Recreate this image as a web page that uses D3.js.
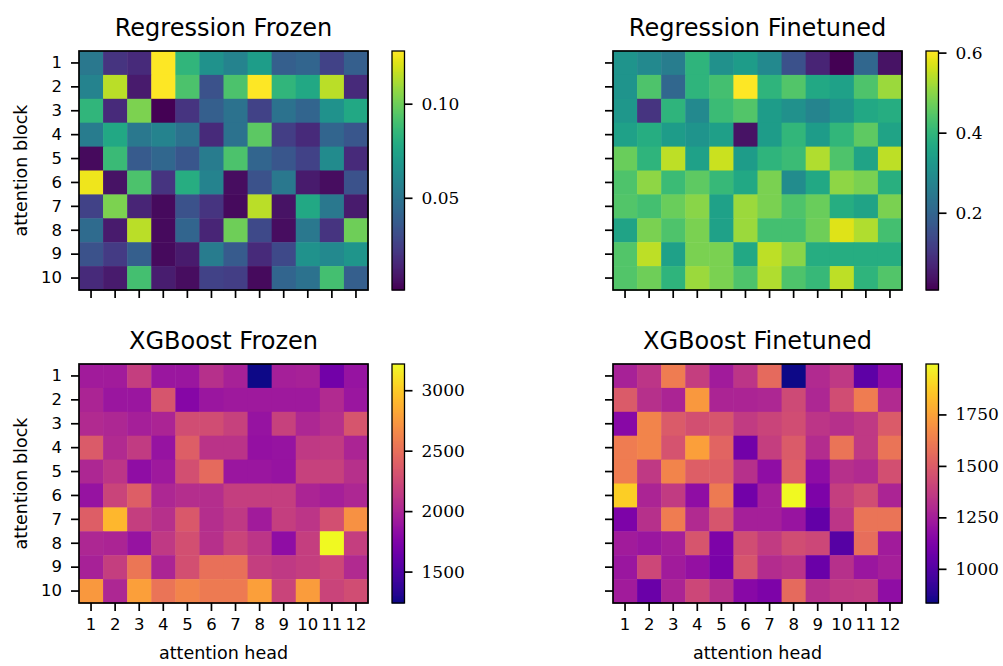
<!DOCTYPE html>
<html>
<head>
<meta charset="utf-8">
<script src="https://cdn.jsdelivr.net/npm/d3@7"></script>
<style>
  body { margin: 0; background: #fff; }
  svg text { fill: #000; }
  .tick line, .domain { stroke: #000; }
</style>
</head>
<body>
<div id="chart"></div>
<script>
// attention head (columns) and attention block (rows)
var heads = [1, 2, 3, 4, 5, 6, 7, 8, 9, 10, 11, 12];
var blocks = [1, 2, 3, 4, 5, 6, 7, 8, 9, 10];

var regFrozen = [
  [0.052, 0.020, 0.016, 0.128, 0.084, 0.065, 0.058, 0.071, 0.039, 0.042, 0.026, 0.039],
  [0.058, 0.115, 0.010, 0.128, 0.092, 0.033, 0.092, 0.128, 0.084, 0.077, 0.115, 0.016],
  [0.084, 0.016, 0.103, 0.001, 0.020, 0.039, 0.049, 0.026, 0.049, 0.042, 0.065, 0.077],
  [0.054, 0.077, 0.052, 0.058, 0.049, 0.016, 0.049, 0.096, 0.024, 0.016, 0.042, 0.035],
  [0.004, 0.087, 0.037, 0.043, 0.035, 0.054, 0.092, 0.042, 0.035, 0.026, 0.062, 0.016],
  [0.125, 0.007, 0.092, 0.020, 0.080, 0.058, 0.005, 0.033, 0.052, 0.010, 0.005, 0.033],
  [0.026, 0.103, 0.014, 0.004, 0.033, 0.020, 0.004, 0.115, 0.007, 0.077, 0.052, 0.010],
  [0.045, 0.010, 0.115, 0.004, 0.042, 0.014, 0.100, 0.029, 0.005, 0.052, 0.020, 0.100],
  [0.033, 0.023, 0.039, 0.004, 0.010, 0.054, 0.037, 0.016, 0.029, 0.065, 0.061, 0.067],
  [0.016, 0.010, 0.090, 0.011, 0.005, 0.026, 0.024, 0.004, 0.042, 0.049, 0.090, 0.039]
];

var regFinetuned = [
  [0.317, 0.288, 0.258, 0.395, 0.306, 0.335, 0.288, 0.156, 0.067, 0.007, 0.204, 0.037],
  [0.317, 0.437, 0.204, 0.395, 0.425, 0.604, 0.395, 0.443, 0.365, 0.347, 0.437, 0.514],
  [0.323, 0.097, 0.395, 0.288, 0.413, 0.443, 0.335, 0.306, 0.276, 0.317, 0.365, 0.377],
  [0.347, 0.377, 0.335, 0.317, 0.341, 0.037, 0.335, 0.401, 0.335, 0.401, 0.455, 0.353],
  [0.467, 0.395, 0.544, 0.347, 0.556, 0.335, 0.395, 0.413, 0.532, 0.437, 0.353, 0.544],
  [0.437, 0.503, 0.413, 0.455, 0.407, 0.365, 0.485, 0.294, 0.365, 0.503, 0.485, 0.383],
  [0.443, 0.425, 0.467, 0.497, 0.347, 0.514, 0.485, 0.437, 0.467, 0.377, 0.353, 0.485],
  [0.353, 0.485, 0.437, 0.485, 0.347, 0.514, 0.425, 0.425, 0.473, 0.574, 0.532, 0.425],
  [0.443, 0.544, 0.347, 0.485, 0.485, 0.365, 0.544, 0.497, 0.377, 0.377, 0.377, 0.377],
  [0.443, 0.473, 0.395, 0.514, 0.485, 0.437, 0.532, 0.437, 0.407, 0.544, 0.395, 0.443]
];

var xgbFrozen = [
  [1932, 1932, 2169, 1892, 1892, 2070, 1971, 1240, 1952, 1971, 1675, 1873],
  [1991, 1892, 1892, 2327, 1774, 1892, 1912, 1912, 1912, 1912, 2031, 1892],
  [2031, 2011, 1952, 1991, 2268, 2268, 2189, 1873, 2189, 2011, 2070, 2327],
  [2367, 2031, 2149, 1873, 2387, 2090, 2090, 1853, 1873, 2130, 2149, 1991],
  [2011, 2110, 1833, 1912, 2288, 2466, 1892, 1892, 1873, 2189, 2189, 2070],
  [1873, 2209, 2387, 2011, 2051, 2051, 2169, 2169, 2169, 1991, 1952, 2011],
  [2387, 2901, 2169, 2070, 2347, 2051, 2130, 1932, 2169, 2110, 2288, 2703],
  [2011, 1991, 1873, 2130, 2288, 2070, 2209, 2110, 1833, 2169, 3217, 2169],
  [1971, 2169, 2545, 1991, 2288, 2505, 2505, 2169, 2130, 2169, 2229, 2031],
  [2743, 2011, 2782, 2525, 2624, 2565, 2565, 2782, 2209, 2762, 2209, 2268]
];

var xgbFinetuned = [
  [1264, 1345, 1623, 1380, 1240, 1345, 1554, 834, 1298, 1356, 1031, 1182],
  [1496, 1322, 1275, 1716, 1275, 1275, 1287, 1426, 1287, 1438, 1623, 1298],
  [1159, 1647, 1496, 1449, 1473, 1368, 1403, 1438, 1345, 1322, 1356, 1496],
  [1623, 1647, 1461, 1740, 1531, 1089, 1380, 1496, 1310, 1589, 1356, 1589],
  [1623, 1356, 1647, 1507, 1507, 1322, 1182, 1507, 1182, 1322, 1298, 1449],
  [1879, 1275, 1368, 1182, 1612, 1089, 1252, 1995, 1124, 1380, 1438, 1275],
  [1124, 1322, 1623, 1298, 1473, 1252, 1252, 1206, 1043, 1345, 1589, 1589],
  [1240, 1217, 1252, 1473, 1124, 1438, 1368, 1438, 1415, 1008, 1565, 1240],
  [1217, 1415, 1240, 1194, 1113, 1473, 1310, 1333, 1066, 1322, 1217, 1252],
  [1240, 1066, 1275, 1415, 1322, 1159, 1124, 1554, 1322, 1356, 1368, 1182]
];

// colorbar tick labels
var regFrozenTicks = [0.05, 0.10];
var regFinetunedTicks = [0.2, 0.4, 0.6];
var xgbFrozenTicks = [1500, 2000, 2500, 3000];
var xgbFinetunedTicks = [1000, 1250, 1500, 1750];

var W = 1003, H = 666;
var svg = d3.select("#chart").append("svg")
    .attr("width", W)
    .attr("height", H);

var mapW = 289, mapH = 239;
var tickLen = 8;

function drawPanel(opt) {
    var g = svg.append("g").attr("transform", "translate(" + opt.x + "," + opt.y + ")");

    var x = d3.scaleBand().domain(heads).range([0, mapW]);
    var y = d3.scaleBand().domain(blocks).range([0, mapH]);
    var flat = d3.merge(opt.data);
    var color = d3.scaleSequential(opt.interp).domain(d3.extent(flat));

    // cells
    opt.data.forEach(function (row, i) {
        g.selectAll(null)
            .data(row)
            .enter()
            .append("rect")
            .attr("x", function (d, j) { return x(heads[j]); })
            .attr("y", y(blocks[i]))
            .attr("width", x.bandwidth() + 0.5)
            .attr("height", y.bandwidth() + 0.5)
            .attr("fill", function (d) { return color(d); });
    });

    // frame
    g.append("rect")
        .attr("width", mapW).attr("height", mapH)
        .attr("fill", "none").attr("stroke", "#000").attr("stroke-width", 1.7);

    // axes
    var xAxis = g.append("g").attr("transform", "translate(0," + mapH + ")")
        .call(d3.axisBottom(x).tickSize(tickLen).tickPadding(7)
            .tickFormat(opt.xLabels ? function (d) { return d; } : ""));
    var yAxis = g.append("g")
        .call(d3.axisLeft(y).tickSize(tickLen).tickPadding(9)
            .tickFormat(opt.yLabels ? function (d) { return d; } : ""));
    [xAxis, yAxis].forEach(function (a) {
        a.select(".domain").remove();
        a.selectAll(".tick line").attr("stroke-width", 1.7);
        a.selectAll(".tick text")
            .style("font-family", "DejaVu Sans")
            .style("font-size", "16.5px");
    });
    xAxis.selectAll(".tick text").attr("dy", "0.75em");

    // title
    g.append("text")
        .attr("x", mapW / 2).attr("y", -15)
        .attr("text-anchor", "middle")
        .style("font-family", "DejaVu Sans")
        .style("font-size", "24px")
        .text(opt.title);

    if (opt.yLabels) {
        g.append("text")
            .attr("transform", "translate(" + (-52) + "," + (mapH / 2) + ") rotate(-90)")
            .attr("text-anchor", "middle")
            .style("font-family", "DejaVu Sans")
            .style("font-size", "17.5px")
            .text("attention block");
    }
    if (opt.xLabels) {
        g.append("text")
            .attr("x", mapW / 2).attr("y", mapH + 56)
            .attr("text-anchor", "middle")
            .style("font-family", "DejaVu Sans")
            .style("font-size", "17.5px")
            .text("attention head");
    }

    // colorbar
    var cb = g.append("g").attr("transform", "translate(" + (mapW + 24) + ",0)");
    var cbW = 12.5;
    var cbScale = d3.scaleLinear().domain(color.domain()).range([mapH, 0]);
    var steps = d3.range(0, mapH, 1);
    cb.selectAll(null)
        .data(steps)
        .enter()
        .append("rect")
        .attr("x", 0)
        .attr("y", function (d) { return d; })
        .attr("width", cbW)
        .attr("height", 1.5)
        .attr("fill", function (d) { return color(cbScale.invert(d + 0.5)); });
    cb.append("rect")
        .attr("width", cbW).attr("height", mapH)
        .attr("fill", "none").attr("stroke", "#000").attr("stroke-width", 1.3);
    var cbAxis = cb.append("g").attr("transform", "translate(" + cbW + ",0)")
        .call(d3.axisRight(cbScale).tickValues(opt.ticks).tickSize(tickLen).tickPadding(9)
            .tickFormat(d3.format(opt.fmt)));
    cbAxis.select(".domain").remove();
    cbAxis.selectAll(".tick line").attr("stroke-width", 1.7);
    cbAxis.selectAll(".tick text")
        .style("font-family", "DejaVu Serif")
        .style("font-size", "17px");
}

drawPanel({ x: 79, y: 51, data: regFrozen, interp: d3.interpolateViridis, title: "Regression Frozen",
    ticks: regFrozenTicks, fmt: ".2f", xLabels: false, yLabels: true });
drawPanel({ x: 613, y: 51, data: regFinetuned, interp: d3.interpolateViridis, title: "Regression Finetuned",
    ticks: regFinetunedTicks, fmt: ".1f", xLabels: false, yLabels: false });
drawPanel({ x: 79, y: 364, data: xgbFrozen, interp: d3.interpolatePlasma, title: "XGBoost Frozen",
    ticks: xgbFrozenTicks, fmt: "d", xLabels: true, yLabels: true });
drawPanel({ x: 613, y: 364, data: xgbFinetuned, interp: d3.interpolatePlasma, title: "XGBoost Finetuned",
    ticks: xgbFinetunedTicks, fmt: "d", xLabels: true, yLabels: false });
</script>
</body>
</html>
